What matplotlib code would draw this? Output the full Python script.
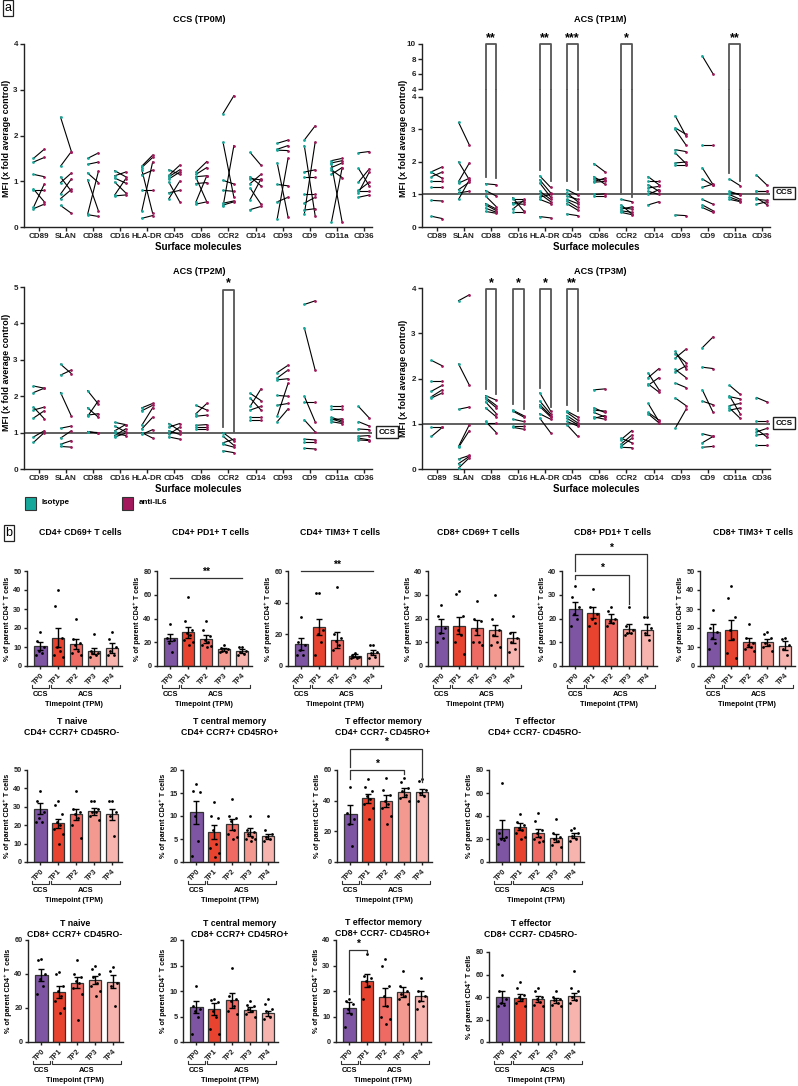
import numpy as np
import matplotlib
matplotlib.use("Agg")
import matplotlib.pyplot as plt
from matplotlib.patches import Rectangle
from matplotlib.transforms import ScaledTranslation

plt.rcParams['font.family'] = ['Liberation Sans', 'DejaVu Sans']
plt.rcParams['font.weight'] = 'bold'
plt.rcParams['axes.labelweight'] = 'bold'

# ---------------- panel a: MFI pairs (isotype -> anti-IL6) ----------------
molecules = ['CD89', 'SLAN', 'CD88', 'CD16', 'HLA-DR', 'CD45', 'CD86',
             'CCR2', 'CD14', 'CD93', 'CD9', 'CD11a', 'CD36']

tp0_iso = [[1.50, 1.42, 1.15, 0.83, 0.80, 0.43, 0.40], [2.40, 1.33, 1.09, 0.97, 0.72, 0.62, 0.47],
           [1.50, 1.37, 1.18, 1.03, 0.28, 0.27], [1.23, 1.12, 1.07, 0.98, 0.70, 0.68],
           [1.33, 1.30, 1.14, 0.80, 0.35, 1.25, 0.19], [1.25, 1.13, 1.10, 1.05, 0.98, 0.75, 0.62],
           [1.20, 1.15, 1.10, 0.95, 0.55, 1.08, 0.50], [2.48, 1.85, 0.45, 1.02, 0.80, 0.52, 0.48],
           [1.63, 1.10, 1.06, 0.95, 0.60, 0.85, 0.38], [1.83, 1.70, 1.68, 1.40, 0.93, 0.55, 0.18],
           [1.90, 1.78, 0.28, 1.20, 1.10, 0.73, 0.52, 0.37], [1.45, 1.40, 1.30, 1.25, 1.15, 1.38, 0.10],
           [1.62, 1.28, 0.98, 0.80, 0.78, 0.75, 0.65]]
tp0_anti = [[1.70, 1.52, 1.10, 0.55, 0.80, 0.94, 0.50], [1.65, 1.65, 0.78, 1.18, 1.05, 0.82, 0.30],
            [1.62, 1.42, 0.97, 0.35, 1.22, 0.23], [1.10, 1.20, 0.96, 0.75, 1.05, 0.70],
            [1.57, 1.52, 1.24, 0.80, 1.42, 0.30, 0.25], [1.15, 1.35, 1.25, 1.20, 0.55, 0.80, 1.00],
            [1.43, 1.30, 1.12, 0.97, 1.12, 0.55, 0.55], [2.87, 0.65, 1.78, 0.94, 0.78, 0.57, 0.55],
            [1.35, 0.90, 1.03, 1.15, 1.05, 0.50, 0.45], [1.90, 1.78, 1.67, 0.22, 0.90, 0.65, 1.50],
            [2.21, 0.25, 1.85, 1.25, 1.10, 0.73, 0.65, 0.40], [1.50, 1.45, 1.40, 1.08, 1.30, 0.10, 1.30],
            [1.65, 0.90, 1.27, 0.98, 0.78, 1.20, 0.70]]

tp1_iso = [[1.70, 1.68, 1.55, 1.40, 1.22, 0.82, 0.33], [3.22, 2.00, 1.40, 1.35, 1.15, 1.05, 0.85],
           [1.33, 1.12, 0.95, 0.72, 0.68, 0.58, 0.48], [0.90, 0.85, 0.75, 0.72, 0.55, 0.45],
           [1.57, 1.45, 1.35, 1.10, 1.02, 0.92, 0.85, 0.32], [1.15, 1.05, 0.95, 0.85, 0.80, 0.72, 0.40],
           [1.95, 1.55, 1.48, 1.40, 1.38, 1.00, 0.95], [0.85, 0.68, 0.60, 0.55, 0.50, 0.45],
           [1.55, 1.42, 1.30, 1.20, 1.10, 1.00, 0.68], [3.42, 3.05, 3.00, 2.38, 2.28, 1.97, 1.92, 0.37],
           [8.40, 2.53, 1.82, 1.48, 1.22, 0.85, 0.68, 0.60], [1.48, 1.10, 1.05, 1.00, 0.92, 0.85],
           [1.60, 1.12, 1.10, 0.90, 0.85, 0.70]]
tp1_anti = [[1.85, 1.50, 1.69, 1.40, 1.22, 0.80, 0.26], [2.52, 1.45, 1.97, 1.50, 1.38, 1.10, 1.45],
            [1.30, 0.95, 0.62, 0.55, 0.50, 0.45, 0.42], [0.50, 0.85, 0.78, 0.70, 0.82, 0.45],
            [1.22, 1.05, 0.92, 0.85, 0.78, 1.00, 0.72, 0.28], [0.98, 0.78, 0.85, 0.72, 0.60, 0.52, 0.35],
            [1.70, 1.32, 1.45, 1.50, 1.40, 1.02, 0.95], [0.78, 0.40, 0.55, 0.62, 0.45, 0.38],
            [1.30, 1.42, 1.10, 1.25, 1.00, 1.15, 0.78], [2.80, 2.85, 2.52, 2.32, 1.95, 2.00, 1.92, 0.35],
            [6.00, 2.53, 1.30, 1.28, 1.32, 0.70, 0.50, 0.45], [1.27, 0.98, 1.02, 0.85, 0.80, 0.78],
            [1.28, 1.12, 1.10, 0.68, 0.82, 0.78]]

tp2_iso = [[2.28, 2.10, 1.70, 1.62, 1.40, 0.88, 0.73], [2.88, 2.58, 2.10, 1.12, 0.85, 0.68, 0.62],
           [2.15, 1.68, 1.48, 1.45, 1.02, 1.03], [1.28, 1.18, 1.05, 0.98, 0.92, 0.88],
           [1.68, 1.60, 1.20, 1.10, 0.95, 1.00], [1.25, 1.15, 1.05, 0.95, 0.88],
           [1.75, 1.52, 1.45, 1.20, 1.10, 1.15], [1.00, 0.90, 0.72, 0.68, 0.50],
           [2.08, 1.95, 1.72, 1.62, 1.42, 1.35], [2.65, 2.50, 2.45, 2.02, 1.75, 1.45, 1.30],
           [4.52, 3.88, 2.00, 1.85, 1.35, 0.82, 0.75, 0.57], [1.72, 1.65, 1.42, 1.38, 1.35, 1.30],
           [1.72, 1.30, 1.10, 0.90, 0.85, 0.80]]
tp2_anti = [[2.22, 2.22, 1.38, 1.70, 1.60, 1.05, 1.00], [2.62, 2.72, 1.45, 1.18, 1.05, 0.78, 0.60],
            [1.78, 1.42, 1.52, 1.88, 1.00, 0.98], [1.22, 1.02, 1.22, 0.92, 1.10, 0.98],
            [1.80, 1.75, 1.68, 1.42, 1.08, 0.85], [1.05, 1.25, 0.95, 1.15, 0.82],
            [1.62, 1.80, 1.48, 1.22, 1.10, 1.15], [0.78, 0.65, 0.82, 0.60, 0.45],
            [1.88, 1.62, 2.20, 1.72, 1.42, 1.35], [2.85, 2.72, 2.48, 2.00, 1.80, 2.35, 1.65],
            [4.62, 2.72, 1.30, 1.85, 1.02, 0.80, 0.75, 0.55], [1.72, 1.65, 1.32, 1.28, 1.38, 1.25],
            [1.40, 1.18, 1.08, 0.92, 0.80, 0.78]]

tp3_iso = [[2.40, 1.95, 1.72, 1.60, 1.57, 0.92, 0.72], [3.72, 2.32, 1.32, 0.50, 0.48, 0.22, 0.12, 0.02],
           [1.62, 1.58, 1.55, 1.48, 1.35, 1.05, 1.02], [1.30, 1.28, 1.10, 0.95, 0.92],
           [1.68, 1.50, 1.42, 1.38, 1.22, 1.12], [1.28, 1.25, 1.18, 1.12, 1.05, 0.98],
           [1.75, 1.35, 1.30, 1.25, 1.15, 1.12], [0.68, 0.65, 0.55, 0.50, 0.48],
           [2.12, 2.02, 1.88, 1.85, 1.45, 1.25, 1.22], [2.60, 2.55, 2.45, 2.15, 1.90, 1.57, 0.90, 2.20],
           [2.68, 2.25, 1.75, 1.50, 0.78, 0.58, 0.48], [1.85, 1.62, 1.60, 1.40, 1.35, 1.30],
           [1.58, 1.05, 0.88, 0.82, 0.75, 0.52]]
tp3_anti = [[2.28, 1.95, 1.85, 1.75, 1.68, 0.92, 0.92], [3.85, 1.85, 1.37, 0.98, 0.85, 0.30, 0.28, 0.25],
            [1.52, 1.40, 1.35, 1.22, 1.15, 0.80, 1.02], [1.18, 1.15, 1.05, 0.95, 0.88],
            [1.28, 1.22, 1.18, 1.15, 1.10, 0.80], [1.15, 1.08, 1.02, 0.98, 0.95, 0.72],
            [1.77, 1.25, 1.28, 1.15, 1.10, 1.18], [0.58, 0.85, 0.75, 0.68, 0.47],
            [1.75, 2.22, 1.70, 2.02, 1.05, 1.08, 1.02], [2.22, 2.35, 2.65, 2.28, 1.80, 1.40, 1.32, 2.02],
            [2.92, 2.22, 1.25, 1.42, 0.72, 0.72, 0.50], [1.65, 1.22, 1.55, 1.45, 1.12, 1.35],
            [1.48, 1.05, 0.70, 0.90, 0.78, 0.52]]

# significance: molecule index, left leg start, right leg start, label
tp1_sig = [(2, 1.55, 1.50, '**'), (4, 1.75, 1.42, '**'), (5, 1.40, 1.15, '***'),
           (7, 1.00, 0.92, '*'), (11, 1.65, 1.40, '**')]
tp2_sig = [(7, 1.15, 1.02, '*')]
tp3_sig = [(2, 1.76, 1.65, '*'), (3, 1.43, 1.32, '*'), (4, 1.80, 1.37, '*'), (5, 1.41, 1.29, '**')]

# ---------------- panel b: T cell subsets (% of parent) ----------------
tp_labels = ['TP0', 'TP1', 'TP2', 'TP3', 'TP4']

cd4_cd69_mean = [10.5, 15.0, 11.5, 8.0, 9.5]
cd4_cd69_sem = [2.0, 5.0, 2.7, 1.5, 2.5]
cd4_cd69_pts = [[18, 13, 10, 8, 7, 6], [40, 31.5, 15, 10, 8, 6, 5], [24.5, 14, 12, 11, 8, 7, 6],
                [17, 8, 7, 7, 6, 5], [18, 14, 10, 8, 6, 6]]

cd4_pd1_mean = [24.0, 28.5, 22.5, 14.0, 12.5]
cd4_pd1_sem = [3.0, 4.5, 3.5, 1.2, 1.5]
cd4_pd1_pts = [[35, 24, 22, 19, 12], [58, 38, 30, 28, 26, 22, 20, 18], [38, 30, 25, 22, 20, 18, 17, 16],
               [18, 15, 14, 13, 12, 12], [16, 16, 13, 12, 10, 9]]

cd4_tim3_mean = [14.0, 24.5, 16.5, 6.5, 8.5]
cd4_tim3_sem = [3.8, 5.0, 5.2, 1.0, 1.5]
cd4_tim3_pts = [[31, 15, 13, 10, 7, 7], [46, 46, 23, 20, 15, 7], [50, 20, 18, 16, 13, 10],
                [8, 7, 6, 6, 5, 5], [13, 13, 9, 8, 6, 5]]

cd8_cd69_mean = [17.0, 17.0, 16.2, 15.0, 12.0]
cd8_cd69_sem = [3.0, 3.6, 3.0, 2.4, 2.5]
cd8_cd69_pts = [[25.5, 21, 16, 14, 12, 10], [31.5, 30.5, 21, 15, 13, 10, 5], [27.5, 20, 19, 15, 10, 10, 9],
                [30, 20, 15, 13, 10, 9, 8], [21, 14, 12, 10, 7, 6]]

cd8_pd1_mean = [24.2, 22.5, 20.0, 15.7, 15.3]
cd8_pd1_sem = [2.8, 2.4, 2.1, 1.9, 2.2]
cd8_pd1_pts = [[33.5, 29, 25, 22, 20, 17], [32.5, 25, 22, 20, 18, 17], [25, 23, 20, 19, 18, 17],
               [25, 17, 15, 14, 14, 13], [20.5, 20.5, 16, 14, 11]]

cd8_tim3_mean = [18.0, 19.0, 12.5, 12.5, 10.7]
cd8_tim3_sem = [4.0, 5.4, 2.3, 1.8, 2.2]
cd8_tim3_pts = [[29.5, 20, 18, 15, 12, 9], [42, 36, 26, 19, 14, 7, 4], [22, 15, 12, 11, 10, 9, 8],
                [18, 17, 15, 12, 11, 10, 8], [15, 14, 11, 9, 6]]

cd4_naive_mean = [29.0, 21.0, 26.0, 27.5, 26.0]
cd4_naive_sem = [3.0, 2.5, 3.0, 2.0, 3.0]
cd4_naive_pts = [[38.5, 33, 27, 24, 22, 22], [33, 31, 26, 22, 20, 18, 15, 10], [38.5, 29, 27, 26, 24, 20, 13],
                 [33, 33, 29, 27, 27, 25, 23], [33, 33, 27, 25, 14]]

cd4_tcm_mean = [10.8, 6.6, 8.2, 6.5, 5.6]
cd4_tcm_sem = [2.5, 1.5, 1.2, 0.8, 0.5]
cd4_tcm_pts = [[17, 15.5, 15.2, 10, 4.5, 1.3], [13, 10, 9.5, 7, 4, 3, 2, 1], [13.7, 10, 9.5, 9, 7, 6, 5.5, 5],
               [10, 7, 6.5, 6, 5.5, 5, 5, 4.5], [10, 7, 6, 5.5, 5, 4.5]]

cd4_tem_mean = [31.0, 41.5, 40.0, 45.5, 45.5]
cd4_tem_sem = [6.0, 3.0, 4.0, 3.0, 2.0]
cd4_tem_pts = [[49, 32, 28, 25, 10.5], [54, 49, 46, 43, 41, 38, 35, 28], [55, 47, 44, 40, 38, 35, 30, 25],
               [55, 52, 48, 46, 44, 42, 40], [54, 53, 47, 45, 43, 40]]

cd4_teff_mean = [28.5, 30.5, 25.5, 20.5, 23.0]
cd4_teff_sem = [8.0, 3.0, 3.5, 3.5, 2.5]
cd4_teff_pts = [[69, 25, 22, 20, 19, 16], [42, 35, 32, 30, 28, 25, 22, 20], [43, 36, 28, 25, 22, 20, 18, 17],
                [37, 25, 22, 20, 18, 15, 13], [30, 28, 25, 23, 20, 18]]

cd8_naive_mean = [39.5, 29.5, 35.0, 36.5, 35.5]
cd8_naive_sem = [3.5, 3.5, 3.5, 2.5, 3.8]
cd8_naive_pts = [[49, 48, 40, 37, 33, 28], [41, 40, 33, 30, 27, 24, 20, 17], [48, 40, 38, 36, 35, 32, 28, 13],
                 [45, 43, 40, 38, 35, 33, 30, 27], [44, 42, 35, 33, 21]]

cd8_tcm_mean = [6.8, 6.5, 8.2, 6.3, 5.6]
cd8_tcm_sem = [1.2, 1.2, 1.5, 0.5, 0.5]
cd8_tcm_pts = [[11, 7, 6.5, 6, 5, 1.5], [8.5, 8.2, 7.8, 6, 5, 2.5, 1.5], [14.6, 9, 8.5, 8, 7, 6, 5.5],
               [8, 7.2, 7, 6.5, 6, 5.5, 5], [8.5, 7.5, 6.5, 6, 5, 4.5]]

cd8_tem_mean = [13.5, 24.0, 17.5, 19.5, 18.0]
cd8_tem_sem = [2.0, 2.5, 3.5, 2.0, 2.0]
cd8_tem_pts = [[17, 16, 15, 13, 11, 6], [34.5, 26, 25, 24, 22, 17], [32.5, 30, 22, 18, 14, 10, 9, 7],
               [28, 22, 20, 19, 18, 17, 15], [25, 20, 18, 16, 14, 13]]

cd8_teff_mean = [40.0, 39.5, 38.5, 37.0, 40.5]
cd8_teff_sem = [5.5, 3.0, 2.5, 2.0, 3.5]
cd8_teff_pts = [[60, 45, 38, 35, 33, 32], [53, 48, 42, 40, 38, 35, 32], [48, 45, 40, 38, 36, 33, 32],
                [45, 40, 38, 37, 35, 33, 32], [63, 48, 45, 40, 37, 35]]

# ---------------- figure ----------------
W, H = 798, 1086
fig = plt.figure(figsize=(W / 100, H / 100), dpi=100)

ISO = '#17A89C'
ANTI = '#A3175C'
AXC = '#222222'
bar_colors = ['#7D55A2', '#E8432F', '#EE6A63', '#F3998F', '#F7B3AE']
dot_offsets = np.array([0.0, -0.2, 0.2, -0.1, 0.1, -0.25, 0.25, 0.05])


def add_ax(l, t, r, b):
    return fig.add_axes([l / W, 1 - b / H, (r - l) / W, (b - t) / H])


def ftext(x, y, s, **kw):
    return fig.text(x / W, 1 - y / H, s, **kw)


def style(ax, size):
    for side in ['top', 'right']:
        ax.spines[side].set_visible(False)
    for side in ['left', 'bottom']:
        ax.spines[side].set_color(AXC)
        ax.spines[side].set_linewidth(1.0)
    ax.tick_params(colors=AXC, width=1, length=3, labelsize=size, pad=1.5)


def draw_pairs(ax, iso, anti):
    for i, (a, b) in enumerate(zip(iso, anti)):
        for y0, y1 in zip(a, b):
            ax.plot([i - 0.2, i + 0.2], [y0, y1], color='black', lw=0.8, zorder=2)
        ax.scatter(np.full(len(a), i - 0.2), a, s=4, color=ISO, lw=0, zorder=3)
        ax.scatter(np.full(len(b), i + 0.2), b, s=4, color=ANTI, lw=0, zorder=3)


def mfi_axes(ax, iso, anti, ymax, title_xy, title):
    style(ax, 5.8)
    draw_pairs(ax, iso, anti)
    ax.set_xlim(-0.55, 12.3)
    ax.set_ylim(0, ymax)
    ax.set_yticks(range(0, ymax + 1))
    ax.set_xticks(range(len(molecules)))
    ax.set_xticklabels(molecules)
    ax.set_xlabel('Surface molecules', fontsize=7, labelpad=1)
    ftext(*title_xy, title, ha='center', va='center', fontsize=6.6)


def a_brackets(ax, sig, top, star=True):
    for i, yl, yr, lab in sig:
        ax.plot([i - 0.2, i - 0.2, i + 0.2, i + 0.2], [yl, top, top, yr],
                color='#555555', lw=1.3, clip_on=False, zorder=1)
        if star:
            ax.text(i, top, lab, ha='center', va='bottom', fontsize=9)


def ccs_box(x, y):
    ftext(x, y, 'CCS', ha='center', va='center', fontsize=5.8,
          bbox=dict(boxstyle='square,pad=0.3', fc='white', ec=AXC, lw=1))


# CCS (TP0M)
ax = add_ax(24, 44, 372, 227)
mfi_axes(ax, tp0_iso, tp0_anti, 4, (199, 19), 'CCS (TP0M)')
ftext(7, 138, 'MFI (x fold average control)', rotation=90, ha='center', va='center', fontsize=6.4)

# ACS (TP1M) with broken y axis
ax_lo = add_ax(422, 97, 770, 227)
mfi_axes(ax_lo, tp1_iso, tp1_anti, 4, (600, 19), 'ACS (TP1M)')
ax_lo.axhline(1, color='#444444', lw=1.2, zorder=1)
gap = 4 + 8 / 32.5
for i, yl, yr, lab in tp1_sig:
    ax_lo.plot([i - 0.2, i - 0.2], [yl, gap], color='#555555', lw=1.3, clip_on=False, zorder=1)
    ax_lo.plot([i + 0.2, i + 0.2], [yr, gap], color='#555555', lw=1.3, clip_on=False, zorder=1)
ax_hi = add_ax(422, 44, 770, 89)
style(ax_hi, 5.8)
ax_hi.spines['bottom'].set_visible(False)
ax_hi.set_xlim(-0.55, 12.3)
ax_hi.set_ylim(4, 10)
ax_hi.set_yticks([4, 6, 8, 10])
ax_hi.set_xticks([])
draw_pairs(ax_hi, [[v for v in m if v > 4] for m in tp1_iso], [[v for v in m if v > 4] for m in tp1_anti])
a_brackets(ax_hi, [(i, 4, 4, lab) for i, yl, yr, lab in tp1_sig], 10)
ftext(404, 138, 'MFI (x fold average control)', rotation=90, ha='center', va='center', fontsize=6.4)
ccs_box(784, 193)

# ACS (TP2M)
ax = add_ax(24, 287, 372, 469)
mfi_axes(ax, tp2_iso, tp2_anti, 5, (199, 271), 'ACS (TP2M)')
ax.axhline(1, color='#444444', lw=1.2, zorder=1)
a_brackets(ax, tp2_sig, 4.93)
ftext(7, 372, 'MFI (x fold average control)', rotation=90, ha='center', va='center', fontsize=6.4)
ccs_box(387, 432)

# ACS (TP3M)
ax = add_ax(422, 288, 770, 469)
mfi_axes(ax, tp3_iso, tp3_anti, 4, (600, 271), 'ACS (TP3M)')
ax.axhline(1, color='#444444', lw=1.2, zorder=1)
a_brackets(ax, tp3_sig, 3.97)
ftext(404, 378, 'MFI (x fold average control)', rotation=90, ha='center', va='center', fontsize=6.4)
ccs_box(784, 423)

# legend
for x0, col, lab in [(25, ISO, 'Isotype'), (122, ANTI, 'anti-IL6')]:
    fig.add_artist(Rectangle((x0 / W, 1 - 510 / H), 11 / W, 13 / H, transform=fig.transFigure,
                             fc=col, ec='#333333', lw=0.8))
    ftext(x0 + 17, 503, lab, ha='left', va='center', fontsize=5.8)

# panel letters
ftext(8, 8, 'a', ha='center', va='center', fontsize=9, fontweight='normal',
      bbox=dict(boxstyle='square,pad=0.15', fc='white', ec=AXC, lw=0.9))
ftext(9, 533, 'b', ha='center', va='center', fontsize=9, fontweight='normal',
      bbox=dict(boxstyle='square,pad=0.15', fc='white', ec=AXC, lw=0.9))


# ---------------- panel b drawing ----------------
def tp_axis(ax):
    base = ax.get_xaxis_transform()

    def tr(dy):
        return base + ScaledTranslation(0, -dy / 100, fig.dpi_scale_trans)

    for x0, x1 in [(-0.45, 0.45), (0.6, 4.45)]:
        ax.plot([x0, x0, x1, x1], [0.03, 0, 0, 0.03], transform=tr(22), color='#333333',
                lw=0.8, clip_on=False)
    ax.text(0, 0, 'CCS', transform=tr(25), ha='center', va='top', fontsize=5.3)
    ax.text(2.5, 0, 'ACS', transform=tr(25), ha='center', va='top', fontsize=5.3)
    ax.text(1.85, 0, 'Timepoint (TPM)', transform=tr(35), ha='center', va='top', fontsize=5.3)


def sig_line(ax, x0, x1, y, yl, yr, lab):
    ax.plot([x0, x0, x1, x1], [yl, y, y, yr], color='#333333', lw=0.9, clip_on=False, zorder=5)
    ax.annotate(lab, ((x0 + x1) / 2, y), xytext=(0, 1), textcoords='offset points',
                ha='center', va='bottom', fontsize=7.5, annotation_clip=False)


def bar_panel(box, title, title_xy, mean, sem, pts, ymax, ystep, sig=()):
    ax = add_ax(*box)
    style(ax, 5.3)
    ax.tick_params(length=2.5)
    x = np.arange(len(tp_labels))
    ax.bar(x, mean, width=0.68, color=bar_colors, edgecolor='#333333', linewidth=0.9, zorder=2)
    ax.errorbar(x, mean, yerr=sem, fmt='none', ecolor='black', elinewidth=1,
                capsize=2.5, capthick=1, zorder=3)
    for i, p in enumerate(pts):
        ax.scatter(i + dot_offsets[:len(p)], p, s=4, color='black', lw=0, zorder=4, clip_on=False)
    ax.set_xlim(-0.75, 4.55)
    ax.set_ylim(0, ymax)
    ax.set_yticks(np.arange(0, ymax + 1, ystep))
    ax.set_xticks(x)
    ax.set_xticklabels(tp_labels, rotation=45, ha='right', va='top', rotation_mode='anchor')
    ax.set_ylabel('% of parent CD4\u207a T cells', fontsize=5.2, labelpad=1.5)
    tp_axis(ax)
    for s in sig:
        sig_line(ax, *s)
    ftext(*title_xy, title, ha='center', va='center', fontsize=6.3, linespacing=1.2)
    return ax


bar_panel((27, 571, 122, 666), 'CD4+ CD69+ T cells', (80, 532),
          cd4_cd69_mean, cd4_cd69_sem, cd4_cd69_pts, 50, 10)
bar_panel((157, 571, 252, 666), 'CD4+ PD1+ T cells', (211, 532),
          cd4_pd1_mean, cd4_pd1_sem, cd4_pd1_pts, 80, 20, [(0, 4, 74, 74, 74, '**')])
bar_panel((288, 571, 383, 666), 'CD4+ TIM3+ T cells', (340, 532),
          cd4_tim3_mean, cd4_tim3_sem, cd4_tim3_pts, 60, 20, [(0, 4, 60, 60, 60, '**')])
bar_panel((428, 571, 523, 666), 'CD8+ CD69+ T cells', (478, 532),
          cd8_cd69_mean, cd8_cd69_sem, cd8_cd69_pts, 40, 10)
bar_panel((562, 571, 657, 666), 'CD8+ PD1+ T cells', (613, 532),
          cd8_pd1_mean, cd8_pd1_sem, cd8_pd1_pts, 40, 10,
          [(0, 3, 38.5, 36.5, 26, '*'), (0, 4, 47, 40, 21, '*')])
bar_panel((700, 571, 795, 666), 'CD8+ TIM3+ T cells', (753, 532),
          cd8_tim3_mean, cd8_tim3_sem, cd8_tim3_pts, 50, 10)

bar_panel((27, 770, 122, 862), 'T naive\nCD4+ CCR7+ CD45RO-', (72, 727),
          cd4_naive_mean, cd4_naive_sem, cd4_naive_pts, 50, 10)
bar_panel((183, 770, 278, 862), 'T central memory\nCD4+ CCR7+ CD45RO+', (230, 727),
          cd4_tcm_mean, cd4_tcm_sem, cd4_tcm_pts, 20, 5)
bar_panel((337, 770, 432, 862), 'T effector memory\nCD4+ CCR7- CD45RO+', (383, 727),
          cd4_tem_mean, cd4_tem_sem, cd4_tem_pts, 60, 20,
          [(0, 3, 60, 54, 57.5, '*'), (0, 4, 74, 62, 52, '*')])
bar_panel((489, 770, 584, 862), 'T effector\nCD4+ CCR7- CD45RO-', (535, 727),
          cd4_teff_mean, cd4_teff_sem, cd4_teff_pts, 80, 20)

bar_panel((28, 940, 123, 1042), 'T naive\nCD8+ CCR7+ CD45RO-', (75, 929),
          cd8_naive_mean, cd8_naive_sem, cd8_naive_pts, 60, 20)
bar_panel((183, 940, 278, 1042), 'T central memory\nCD8+ CCR7+ CD45RO+', (240, 929),
          cd8_tcm_mean, cd8_tcm_sem, cd8_tcm_pts, 20, 5)
bar_panel((336, 940, 431, 1042), 'T effector memory\nCD8+ CCR7- CD45RO+', (383, 928),
          cd8_tem_mean, cd8_tem_sem, cd8_tem_pts, 40, 10, [(0, 1, 36, 19, 35, '*')])
bar_panel((489, 952, 584, 1042), 'T effector\nCD8+ CCR7- CD45RO-', (531, 929),
          cd8_teff_mean, cd8_teff_sem, cd8_teff_pts, 80, 20)

fig.savefig('out.png', dpi=100)
